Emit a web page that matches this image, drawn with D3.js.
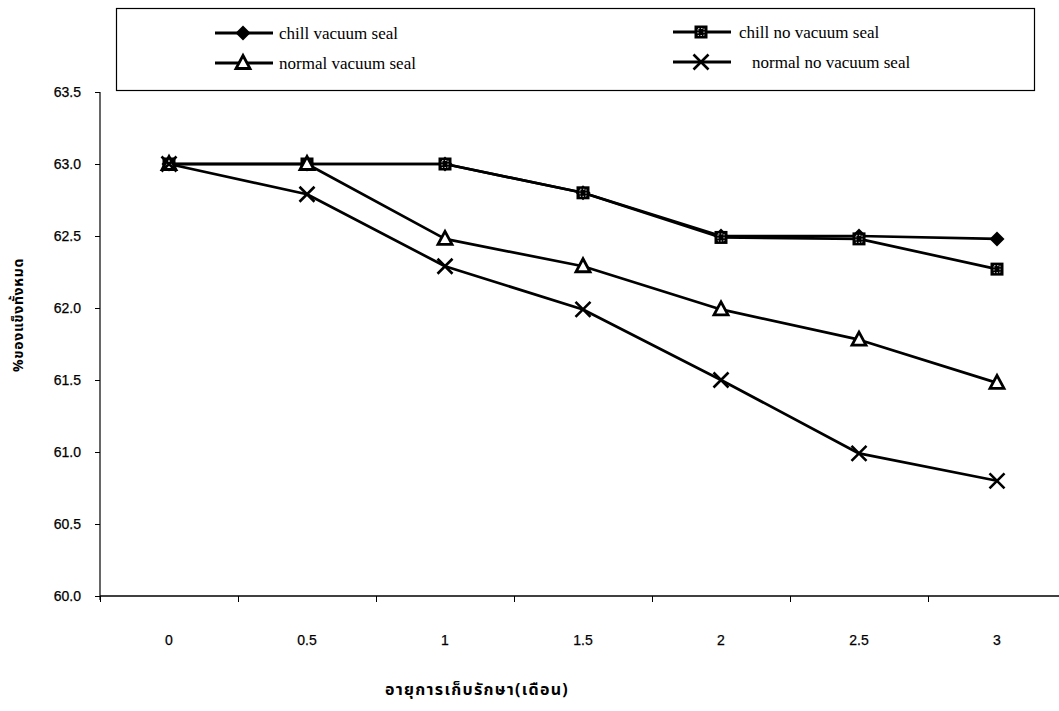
<!DOCTYPE html>
<html>
<head>
<meta charset="utf-8">
<script src="https://cdn.jsdelivr.net/npm/d3@7"></script>
<style>
  html, body { margin: 0; padding: 0; background: #fff; }
  svg { display: block; }
  .tick text { font-family: "Liberation Sans", Arial, sans-serif; font-size: 14px; fill: #000; stroke: #000; stroke-width: 0.25px; }
  .legend text { font-family: "Liberation Serif", "Times New Roman", serif; font-size: 17px; fill: #000; }
  .title { font-family: "Noto Sans Thai", "Noto Sans", "DejaVu Sans", sans-serif; font-weight: bold; fill: #000; }
</style>
</head>
<body>
<script>
// Storage time (months)
const months = ["0", "0.5", "1", "1.5", "2", "2.5", "3"];
// % total solids per treatment
const chillVacuum    = [63.0, 63.0, 63.0, 62.8, 62.5, 62.5, 62.48];
const chillNoVacuum  = [63.0, 63.0, 63.0, 62.8, 62.49, 62.48, 62.27];
const normalVacuum   = [63.0, 63.0, 62.48, 62.29, 61.99, 61.78, 61.48];
const normalNoVacuum = [63.0, 62.79, 62.29, 61.99, 61.5, 60.99, 60.8];
const yTicks = [60.0, 60.5, 61.0, 61.5, 62.0, 62.5, 63.0, 63.5];

const series = [
  { name: "chill vacuum seal",     values: chillVacuum,    marker: "diamond" },
  { name: "chill no vacuum seal",  values: chillNoVacuum,  marker: "square" },
  { name: "normal vacuum seal",    values: normalVacuum,   marker: "triangle" },
  { name: "normal no vacuum seal", values: normalNoVacuum, marker: "cross" }
];

const W = 1059, H = 711;
const svg = d3.select("body").append("svg").attr("width", W).attr("height", H);

const x = d3.scaleBand().domain(months).range([100, 1066]);
const xEdges = d3.scaleLinear().domain([0, months.length]).range(x.range());
const y = d3.scaleLinear().domain([60, 63.5]).range([596, 92]);

// Y axis
const yAxis = svg.append("g").attr("transform", "translate(100,0)")
  .call(d3.axisLeft(y).tickValues(yTicks).tickFormat(d3.format(".1f")).tickSize(5).tickPadding(14));
yAxis.select(".domain").attr("stroke", "#000").attr("stroke-width", 1.2).attr("d", "M0,92V600");
yAxis.selectAll(".tick line").attr("stroke", "#000");

// X axis: ticks on category boundaries, labels at category centres
const xTicks = svg.append("g").attr("transform", "translate(0,596)")
  .call(d3.axisBottom(xEdges).tickValues(d3.range(0, months.length + 1)).tickFormat("").tickSize(6));
xTicks.select(".domain").attr("stroke", "#000").attr("stroke-width", 1.4).attr("d", "M100,0H1059");
xTicks.selectAll(".tick line").attr("stroke", "#000");

const xLabels = svg.append("g").attr("transform", "translate(0,596)")
  .call(d3.axisBottom(x).tickSize(0).tickPadding(39));
xLabels.select(".domain").remove();

// Axis titles
svg.append("text").attr("class", "title")
  .attr("x", 477).attr("y", 695).attr("text-anchor", "middle")
  .style("font-size", "16px").style("letter-spacing", "1.3px")
  .text("อายุการเก็บรักษา(เดือน)");
svg.append("text").attr("class", "title")
  .attr("transform", "translate(23,315) rotate(-90)").attr("text-anchor", "middle")
  .style("font-size", "14px").style("letter-spacing", "0.7px")
  .text("%ของแข็งทั้งหมด");

// Marker shapes
function drawMarker(g, type, cx, cy) {
  if (type === "diamond") {
    g.append("path").attr("d", `M${cx},${cy-7.5}L${cx+7.5},${cy}L${cx},${cy+7.5}L${cx-7.5},${cy}Z`).attr("fill", "#000");
  } else if (type === "square") {
    g.append("rect").attr("x", cx-6.5).attr("y", cy-6.5).attr("width", 13).attr("height", 13).attr("fill", "#000");
    g.append("rect").attr("x", cx-3).attr("y", cy-3.5).attr("width", 6).attr("height", 7)
      .attr("fill", "none").attr("stroke", "#bbb").attr("stroke-width", 1).attr("stroke-dasharray", "1.5,1.5");
  } else if (type === "triangle") {
    g.append("path").attr("d", `M${cx},${cy-7.5}L${cx+7},${cy+5.5}L${cx-7},${cy+5.5}Z`)
      .attr("fill", "#fff").attr("stroke", "#000").attr("stroke-width", 2.8).attr("stroke-linejoin", "miter");
  } else {
    g.append("path").attr("d", `M${cx-7.5},${cy-7.5}L${cx+7.5},${cy+7.5}M${cx+7.5},${cy-7.5}L${cx-7.5},${cy+7.5}`)
      .attr("stroke", "#000").attr("stroke-width", 2.6).attr("fill", "none");
  }
}

const line = d3.line().x((d, i) => x(months[i]) + x.bandwidth() / 2).y(d => y(d));
const plot = svg.append("g");
series.forEach(s => {
  plot.append("path").datum(s.values).attr("d", line)
    .attr("fill", "none").attr("stroke", "#000").attr("stroke-width", 2.7).attr("stroke-linejoin", "round");
});
series.forEach(s => {
  const g = plot.append("g");
  s.values.forEach((v, i) => drawMarker(g, s.marker, x(months[i]) + x.bandwidth() / 2, y(v)));
});

// Legend
const legend = svg.append("g").attr("class", "legend");
legend.append("rect").attr("x", 116.5).attr("y", 8.5).attr("width", 918).attr("height", 82)
  .attr("fill", "#fff").attr("stroke", "#000").attr("stroke-width", 1.2);
const legendPos = [
  { lx: 215, ly: 33, tx: 279 },
  { lx: 673, ly: 32, tx: 739 },
  { lx: 215, ly: 63, tx: 279 },
  { lx: 673, ly: 62, tx: 752 }
];
series.forEach((s, i) => {
  const p = legendPos[i];
  const g = legend.append("g");
  g.append("line").attr("x1", p.lx).attr("x2", p.lx + 58).attr("y1", p.ly).attr("y2", p.ly)
    .attr("stroke", "#000").attr("stroke-width", 2.8);
  drawMarker(g, s.marker, p.lx + 28, p.ly);
  g.append("text").attr("x", p.tx).attr("y", p.ly + 6).text(s.name);
});
</script>
</body>
</html>
